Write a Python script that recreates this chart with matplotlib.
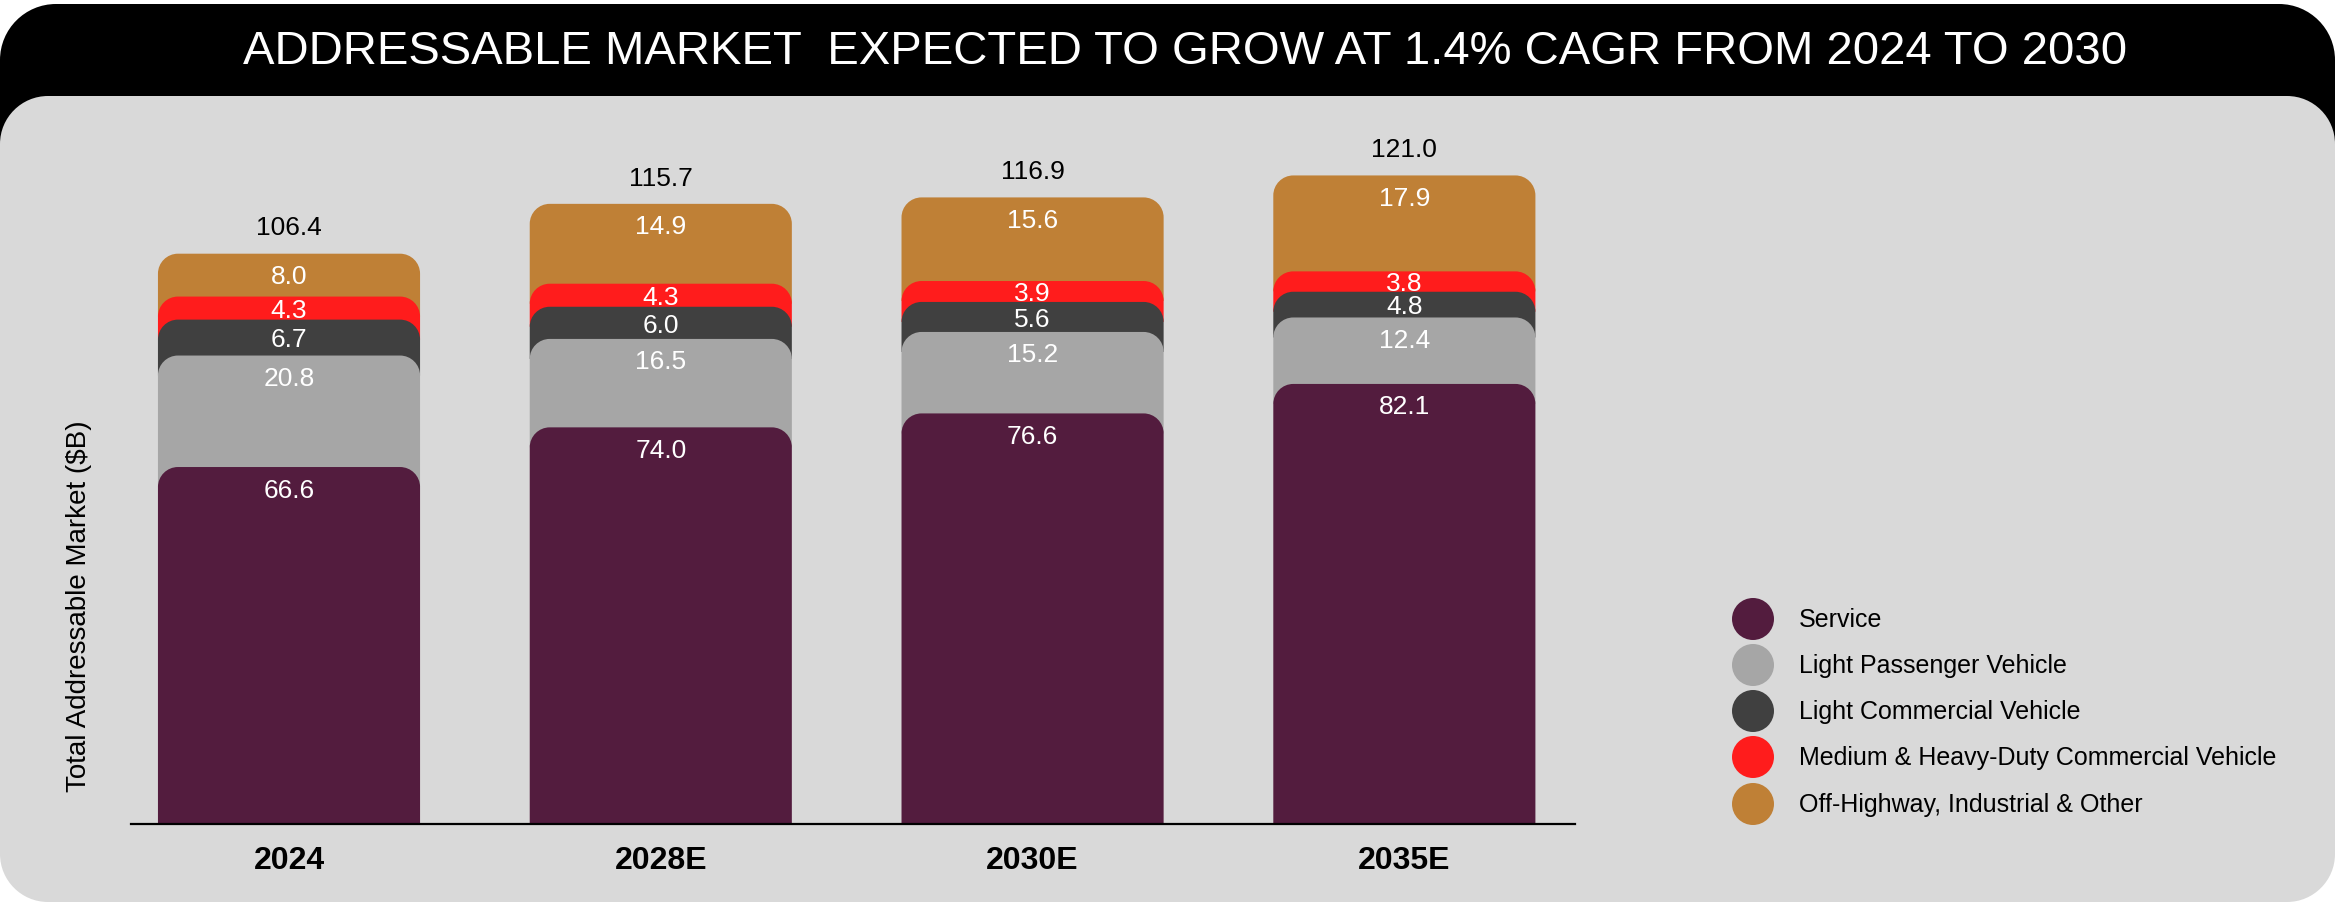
import matplotlib
matplotlib.use("Agg")
import matplotlib.pyplot as plt
from matplotlib.path import Path
from matplotlib.patches import PathPatch, Circle

# ---- data ($B) ----
categories = ["2024", "2028E", "2030E", "2035E"]
service = [66.6, 74.0, 76.6, 82.1]
light_passenger = [20.8, 16.5, 15.2, 12.4]
light_commercial = [6.7, 6.0, 5.6, 4.8]
medium_heavy = [4.3, 4.3, 3.9, 3.8]
off_highway = [8.0, 14.9, 15.6, 17.9]
totals = [106.4, 115.7, 116.9, 121.0]

series_names = ["Service", "Light Passenger Vehicle", "Light Commercial Vehicle",
                "Medium & Heavy-Duty Commercial Vehicle", "Off-Highway, Industrial & Other"]
series_values = [service, light_passenger, light_commercial, medium_heavy, off_highway]
colors = ["#531C3E", "#A6A6A6", "#404040", "#FF1C1C", "#BF8036"]

title = "ADDRESSABLE MARKET  EXPECTED TO GROW AT 1.4% CAGR FROM 2024 TO 2030"
ylabel = "Total Addressable Market ($B)"

plt.rcParams['font.family'] = ['Liberation Sans', 'DejaVu Sans']

W, H = 2335, 903
fig = plt.figure(figsize=(W / 100, H / 100), dpi=100)
fig.patch.set_facecolor("white")

K = 0.5523


def rounded_rect(x0, y0, x1, y1, rx, ry, round_bottom=False):
    """Closed path of a rectangle with rounded top corners (optionally bottom too)."""
    v, c = [], []
    if round_bottom:
        v += [(x0 + rx, y0), (x1 - rx, y0)]
        c += [Path.MOVETO, Path.LINETO]
        v += [(x1 - rx + K * rx, y0), (x1, y0 + ry - K * ry), (x1, y0 + ry)]
        c += [Path.CURVE4] * 3
    else:
        v += [(x0, y0), (x1, y0)]
        c += [Path.MOVETO, Path.LINETO]
    v += [(x1, y1 - ry)]
    c += [Path.LINETO]
    v += [(x1, y1 - ry + K * ry), (x1 - rx + K * rx, y1), (x1 - rx, y1)]
    c += [Path.CURVE4] * 3
    v += [(x0 + rx, y1)]
    c += [Path.LINETO]
    v += [(x0 + rx - K * rx, y1), (x0, y1 - ry + K * ry), (x0, y1 - ry)]
    c += [Path.CURVE4] * 3
    if round_bottom:
        v += [(x0, y0 + ry)]
        c += [Path.LINETO]
        v += [(x0, y0 + ry - K * ry), (x0 + rx - K * rx, y0), (x0 + rx, y0)]
        c += [Path.CURVE4] * 3
    else:
        v += [(x0, y0)]
        c += [Path.LINETO]
    v += [(0, 0)]
    c += [Path.CLOSEPOLY]
    return Path(v, c)


# ---- background panels (pixel space, y up) ----
bg = fig.add_axes([0, 0, 1, 1], zorder=0)
bg.set_xlim(0, W)
bg.set_ylim(0, H)
bg.axis("off")
bg.add_patch(PathPatch(rounded_rect(0, H - 260, W, H - 5, 56, 56, round_bottom=True),
                       facecolor="black", edgecolor="none"))
bg.add_patch(PathPatch(rounded_rect(0, 0, W, H - 97, 48, 48, round_bottom=True),
                       facecolor="#D9D9D9", edgecolor="none"))

fig.text(1185 / W, 1 - 52 / H, title, color="white", fontsize=34,
         ha="center", va="center")
fig.text(79 / W, 1 - 606 / H, ylabel, rotation=90, fontsize=20,
         ha="center", va="center", color="black")

# ---- legend ----
row_y = [620, 666, 712, 758, 805]
for name, col, ry_ in zip(series_names, colors, row_y):
    bg.add_patch(Circle((1753, H - ry_), 21, facecolor=col, edgecolor="none"))
    bg.text(1799, H - ry_, name, fontsize=18, ha="left", va="center", color="black")

# ---- main chart ----
ax_left, ax_right = 131, 1575
y_base = 825
px_per_unit = 5.36
ymax = 130
ax = fig.add_axes([ax_left / W, (H - y_base) / H, (ax_right - ax_left) / W,
                   ymax * px_per_unit / H], zorder=1)
ax.set_facecolor("none")
xlim = (-0.425, 3.459)
ax.set_xlim(*xlim)
ax.set_ylim(0, ymax)

x_px_per_unit = (ax_right - ax_left) / (xlim[1] - xlim[0])
corner_px = 20
rx = corner_px / x_px_per_unit
ry = corner_px / px_per_unit
bar_w = 0.705

for i, cat in enumerate(categories):
    base = 0.0
    for j, (vals, col) in enumerate(zip(series_values, colors)):
        v = vals[i]
        y0 = base - (ry if j > 0 else 0.0)
        y1 = base + v
        ax.add_patch(PathPatch(rounded_rect(i - bar_w / 2, y0, i + bar_w / 2, y1, rx, ry),
                               facecolor=col, edgecolor="none", zorder=10 - j))
        off = min(4.2, v / 2 + 0.35)
        ax.text(i, y1 - off, f"{v:.1f}", color="white", fontsize=19,
                ha="center", va="center", zorder=20)
        base += v
    ax.text(i, totals[i] + 4.9, f"{totals[i]:.1f}", color="black", fontsize=19,
            ha="center", va="center", zorder=20)

ax.set_xticks(range(len(categories)))
ax.set_xticklabels(categories, fontsize=23, fontweight="bold")
ax.tick_params(axis="x", length=0, pad=15)
ax.set_yticks([])
for s in ["top", "right", "left"]:
    ax.spines[s].set_visible(False)
ax.spines["bottom"].set_color("black")
ax.spines["bottom"].set_linewidth(1.6)
ax.spines["bottom"].set_zorder(30)

fig.savefig("out.png", dpi=100)
